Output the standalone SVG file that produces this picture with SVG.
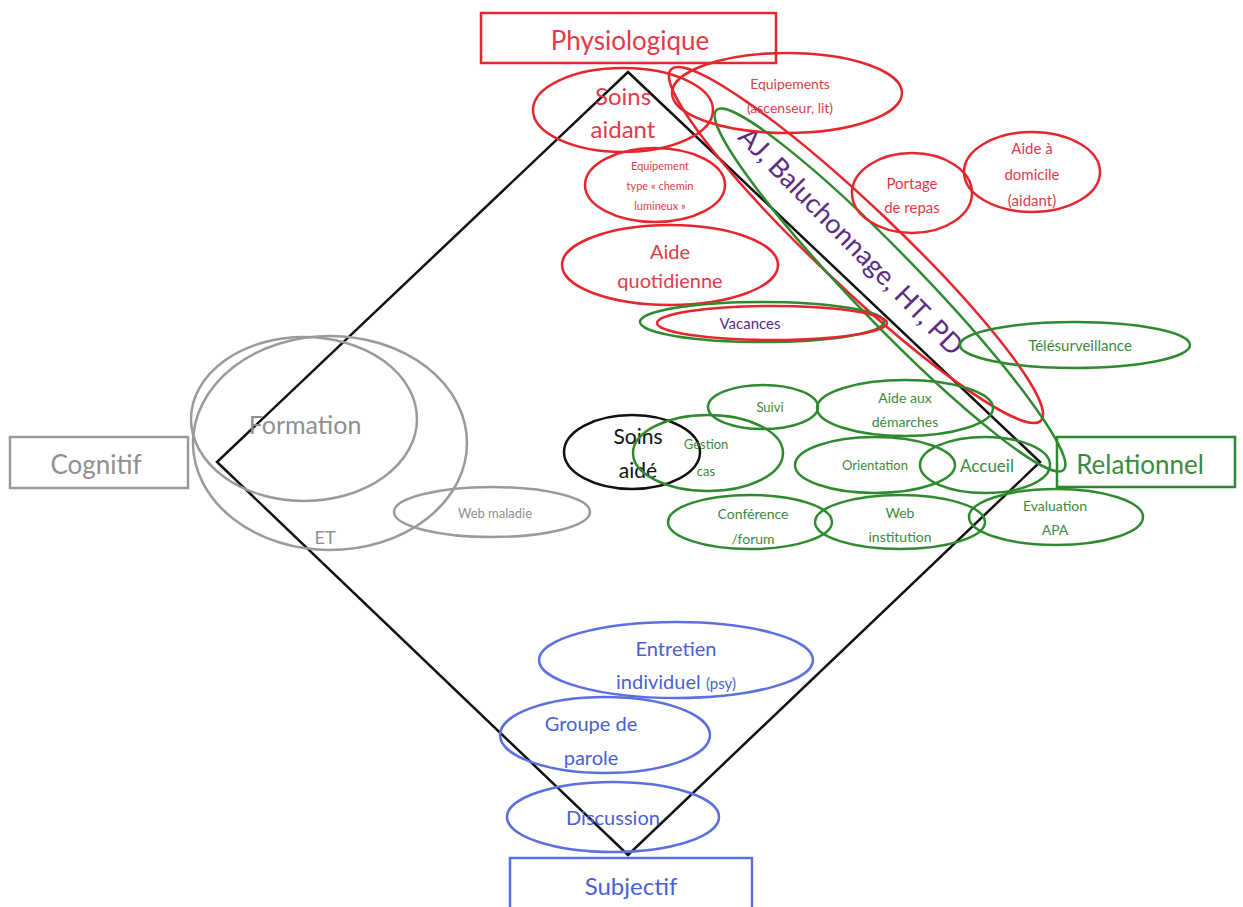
<svg xmlns="http://www.w3.org/2000/svg" width="1243" height="907" viewBox="0 0 1243 907">
<style>
text{font-family:Lato,"Open Sans","Liberation Sans",sans-serif;text-anchor:middle}
.r{fill:none;stroke:#e5262d;stroke-width:2.5}
.g{fill:none;stroke:#2f8a2f;stroke-width:2.5}
.gy{fill:none;stroke:#9a9a9a;stroke-width:2.5}
.b{fill:none;stroke:#5b6fe0;stroke-width:2.5}
.k{fill:none;stroke:#111;stroke-width:2.5}
.tr{fill:#e23a4a}
.tg{fill:#3d8a3d}
.tgy{fill:#8f8f8f}
.tb{fill:#4a5fd6}
.tk{fill:#111}
.tp{fill:#5a2d82}
</style>
<rect width="1243" height="907" fill="#fff"/>
<g id="diamond"><polygon points="628,72 1040,462 628,855 217,462" class="k" stroke-width="2.5"/></g>

<g id="physiologique"><rect x="481" y="13" width="295" height="50" class="r" stroke-width="1.8"/><text x="630" y="50" font-size="26" class="tr">Physiologique</text></g>
<g id="cognitif"><rect x="10" y="437" width="178" height="51" class="gy" stroke-width="1.8"/><text x="96" y="474" font-size="26" class="tgy">Cognitif</text></g>
<g id="relationnel"><rect x="1057" y="437" width="178" height="50" class="g" stroke-width="1.8"/><text x="1140" y="474" font-size="26" class="tg">Relationnel</text></g>
<g id="subjectif"><rect x="510" y="858" width="242" height="60" class="b" stroke-width="1.8"/><text x="631" y="895" font-size="24" class="tb">Subjectif</text></g>

<g id="aj"><ellipse cx="856" cy="245" rx="255" ry="40" transform="rotate(43.5 856 245)" class="r"/><ellipse cx="890" cy="290" rx="250" ry="34" transform="rotate(46 890 290)" class="g"/><text x="850" y="250" font-size="27" class="tp" transform="rotate(45.5 850 242)">AJ, Baluchonnage, HT, PD</text></g>

<g id="soins-aidant"><ellipse cx="623" cy="110" rx="90" ry="42" class="r"/><text x="623" y="105" font-size="24" class="tr">Soins</text><text x="623" y="138" font-size="24" class="tr">aidant</text></g>
<g id="equipements"><ellipse cx="787" cy="93" rx="115" ry="40" class="r"/><text x="790" y="89" font-size="14" class="tr">Equipements</text><text x="790" y="113" font-size="14" class="tr">(ascenseur, lit)</text></g>
<g id="chemin"><ellipse cx="655" cy="185" rx="70" ry="37" class="r"/><text x="660" y="170" font-size="11" class="tr">Equipement</text><text x="660" y="190" font-size="11" class="tr">type « chemin</text><text x="660" y="210" font-size="11" class="tr">lumineux »</text></g>
<g id="aide-quotidienne"><ellipse cx="670" cy="265" rx="108" ry="40" class="r"/><text x="670" y="259" font-size="20" class="tr">Aide</text><text x="670" y="288" font-size="20" class="tr">quotidienne</text></g>
<g id="portage"><ellipse cx="912" cy="193" rx="60" ry="40" class="r"/><text x="912" y="189" font-size="15" class="tr">Portage</text><text x="912" y="213" font-size="15" class="tr">de repas</text></g>
<g id="aide-domicile"><ellipse cx="1032" cy="172" rx="68" ry="40" class="r"/><text x="1032" y="154" font-size="15" class="tr">Aide à</text><text x="1032" y="180" font-size="15" class="tr">domicile</text><text x="1032" y="206" font-size="15" class="tr">(aidant)</text></g>
<g id="vacances"><ellipse cx="762" cy="322" rx="122" ry="20" class="g"/><ellipse cx="772" cy="323" rx="115" ry="17" class="r"/><text x="750" y="329" font-size="15" class="tp">Vacances</text></g>

<g id="telesurveillance"><ellipse cx="1075" cy="345" rx="115" ry="23" class="g"/><text x="1080" y="351" font-size="15" class="tg">Télésurveillance</text></g>
<g id="suivi"><ellipse cx="763" cy="407" rx="55" ry="22" class="g"/><text x="770" y="412" font-size="13" class="tg">Suivi</text></g>
<g id="demarches"><ellipse cx="905" cy="408" rx="88" ry="28" class="g"/><text x="905" y="403" font-size="14" class="tg">Aide aux</text><text x="905" y="427" font-size="14" class="tg">démarches</text></g>
<g id="soins-aide"><ellipse cx="632" cy="452" rx="68" ry="37" class="k"/><text x="638" y="444" font-size="21" class="tk">Soins</text><text x="638" y="478" font-size="21" class="tk">aidé</text></g>
<g id="gestion"><ellipse cx="708" cy="453" rx="75" ry="38" class="g"/><text x="706" y="449" font-size="13" class="tg">Gestion</text><text x="706" y="476" font-size="13" class="tg">cas</text></g>
<g id="orientation"><ellipse cx="875" cy="465" rx="80" ry="28" class="g"/><text x="875" y="470" font-size="13" class="tg">Orientation</text></g>
<g id="accueil"><ellipse cx="985" cy="465" rx="65" ry="28" class="g"/><text x="987" y="472" font-size="17" class="tg">Accueil</text></g>
<g id="conference"><ellipse cx="750" cy="522" rx="82" ry="27" class="g"/><text x="753" y="519" font-size="14" class="tg">Conférence</text><text x="753" y="544" font-size="14" class="tg">/forum</text></g>
<g id="web-institution"><ellipse cx="900" cy="522" rx="85" ry="27" class="g"/><text x="900" y="518" font-size="14" class="tg">Web</text><text x="900" y="542" font-size="14" class="tg">institution</text></g>
<g id="evaluation"><ellipse cx="1056" cy="517" rx="87" ry="28" class="g"/><text x="1055" y="511" font-size="14" class="tg">Evaluation</text><text x="1055" y="535" font-size="14" class="tg">APA</text></g>

<g id="et"><ellipse cx="330" cy="443" rx="137" ry="107" class="gy"/><text x="325" y="544" font-size="18" class="tgy">ET</text></g>
<g id="formation"><ellipse cx="304" cy="419" rx="113" ry="82" class="gy"/><text x="305" y="434" font-size="25" class="tgy">Formation</text></g>
<g id="web-maladie"><ellipse cx="492" cy="512" rx="98" ry="25" class="gy"/><text x="495" y="518" font-size="13" class="tgy">Web maladie</text></g>

<g id="entretien"><ellipse cx="676" cy="660" rx="137" ry="38" class="b"/><text x="676" y="656" font-size="20" class="tb">Entretien</text><text x="676" y="689" font-size="20" class="tb">individuel <tspan font-size="15">(psy)</tspan></text></g>
<g id="groupe"><ellipse cx="605" cy="735" rx="105" ry="38" class="b"/><text x="591" y="731" font-size="20" class="tb">Groupe de</text><text x="591" y="765" font-size="20" class="tb">parole</text></g>
<g id="discussion"><ellipse cx="613" cy="817" rx="106" ry="35" class="b"/><text x="613" y="825" font-size="20" class="tb">Discussion</text></g>
<g id="connectors"></g>
</svg>
